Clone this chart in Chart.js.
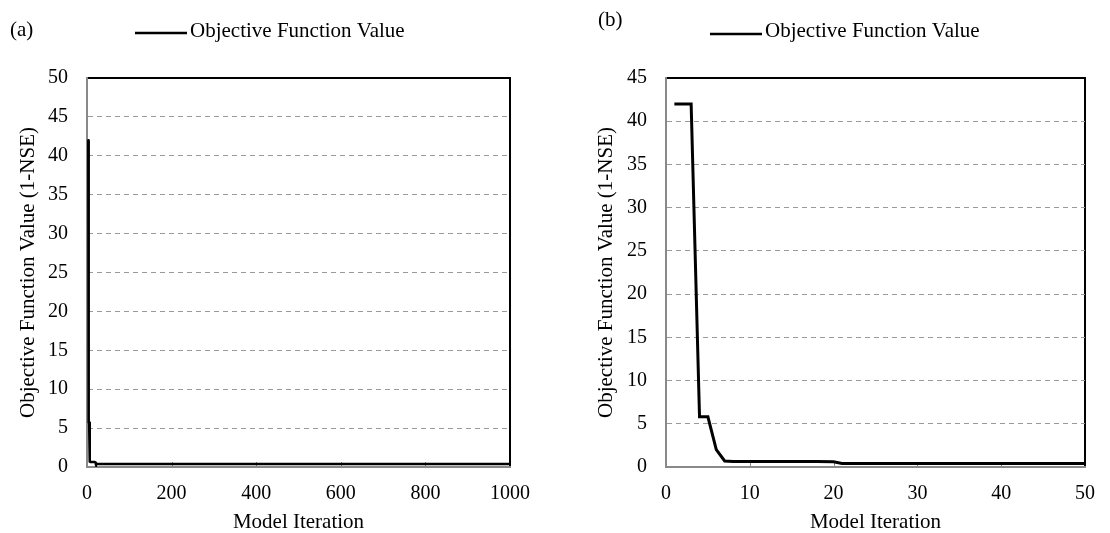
<!DOCTYPE html>
<html>
<head>
<meta charset="utf-8">
<script src="https://cdn.jsdelivr.net/npm/chart.js@4"></script>
<style>
  html, body { margin: 0; padding: 0; background: #fff; }
  #wrap { position: relative; width: 1110px; height: 533px; }
  .panel { position: absolute; top: 0; width: 555px; height: 533px; }
</style>
</head>
<body>
<div id="wrap">
  <div class="panel" style="left:0"><canvas id="chartA" width="555" height="533"></canvas></div>
  <div class="panel" style="left:555px"><canvas id="chartB" width="555" height="533"></canvas></div>
</div>
<script>
// --- dados ---
const seriesLabel = 'Objective Function Value';
const yTitle = 'Objective Function Value (1-NSE)';
const xTitle = 'Model Iteration';

// painel (a): 1000 iterações
const iterA  = [1, 2, 3, 4, 5, 6, 7, 8, 18, 20, 21, 1000];
const valueA = [42, 42, 42, 5.8, 5.8, 2.0, 0.7, 0.65, 0.65, 0.6, 0.4, 0.4];

// painel (b): zoom nas primeiras 50 iterações
const iterB  = [1, 2, 3, 4, 5, 6, 7, 8, 18, 20, 21, 50];
const valueB = [42, 42, 42, 5.8, 5.8, 2.0, 0.7, 0.65, 0.65, 0.6, 0.4, 0.4];

const FONT = '"Liberation Serif", "Times New Roman", serif';
const AXIS_GRAY = '#898989';
const GRID_GRAY = '#9a9a9a';

Chart.defaults.font.family = FONT;
Chart.defaults.font.size = 20;
Chart.defaults.color = '#000';

// Plugin: moldura preta (topo/direita), ticks internos no eixo x, rótulo do painel e legenda
const panelDecor = {
    id: 'panelDecor',
    beforeDraw(chart) {
        const { ctx, chartArea: a } = chart;
        ctx.save();
        ctx.strokeStyle = '#000';
        ctx.lineWidth = 2;
        ctx.beginPath();
        ctx.moveTo(a.left, a.top);
        ctx.lineTo(a.right, a.top);
        ctx.lineTo(a.right, a.bottom);
        ctx.stroke();
        ctx.restore();
    },
    beforeDatasetsDraw(chart) {
        const { ctx, chartArea: a } = chart;
        const xs = chart.scales.x;
        ctx.save();
        ctx.strokeStyle = AXIS_GRAY;
        ctx.lineWidth = 1;
        xs.ticks.forEach(t => {
            const px = Math.round(xs.getPixelForValue(t.value)) + 0.5;
            if (px < a.left + 3 || px > a.right - 3) return;
            ctx.beginPath();
            ctx.moveTo(px, a.bottom);
            ctx.lineTo(px, a.bottom - 5);
            ctx.stroke();
        });
        ctx.restore();
    },
    afterDraw(chart, args, o) {
        const ctx = chart.ctx;
        const ds = chart.data.datasets[0];
        ctx.save();
        ctx.font = '21px ' + FONT;
        ctx.fillStyle = '#000';
        ctx.textBaseline = 'middle';
        ctx.textAlign = 'left';
        ctx.fillText(o.panelLabel, o.labelX, o.labelY);
        ctx.strokeStyle = ds.borderColor;
        ctx.lineWidth = 2.5;
        ctx.beginPath();
        ctx.moveTo(o.legendX, o.legendY);
        ctx.lineTo(o.legendX + o.legendLen, o.legendY);
        ctx.stroke();
        ctx.fillText(ds.label, o.legendX + o.legendLen + 3, o.legendTextY);
        ctx.restore();
    }
};

function makePanel(canvasId, xs, ys, cfg) {
    const points = xs.map((x, i) => ({ x: x, y: ys[i] }));
    return new Chart(document.getElementById(canvasId), {
        type: 'line',
        data: {
            datasets: [{
                label: seriesLabel,
                data: points,
                borderColor: '#000',
                borderWidth: cfg.lineWidth,
                pointRadius: 0,
                tension: 0,
                fill: false
            }]
        },
        options: {
            responsive: false,
            animation: false,
            devicePixelRatio: 1,
            layout: { padding: { top: 78, right: cfg.padRight, bottom: 0, left: 0 } },
            plugins: {
                legend: { display: false },
                tooltip: { enabled: false },
                panelDecor: cfg.decor
            },
            scales: {
                x: {
                    type: 'linear',
                    min: 0,
                    max: cfg.xMax,
                    ticks: { stepSize: cfg.xStep, padding: 15, maxRotation: 0, callback: v => String(v) },
                    grid: { drawOnChartArea: false, drawTicks: false },
                    border: { color: AXIS_GRAY, width: 2 },
                    title: { display: true, text: xTitle, padding: { top: 0, bottom: 0 }, font: { size: 21, lineHeight: 1 } },
                    afterFit: s => { s.height = 66; }
                },
                y: {
                    min: 0,
                    max: cfg.yMax,
                    ticks: { stepSize: 5, padding: 19 },
                    grid: {
                        drawTicks: false,
                        lineWidth: 1,
                        color: c => (c.tick.value === 0 || c.tick.value === cfg.yMax) ? 'rgba(0,0,0,0)' : GRID_GRAY
                    },
                    border: { color: AXIS_GRAY, width: 2, dash: [5, 4] },
                    title: { display: true, text: yTitle, padding: { top: cfg.yTitlePad, bottom: 0 }, font: { size: 21, lineHeight: 1.2 } },
                    afterFit: s => { s.width = cfg.yWidth; }
                }
            }
        },
        plugins: [panelDecor]
    });
}

makePanel('chartA', iterA, valueA, {
    xMax: 1000, xStep: 200, yMax: 50, lineWidth: 2.5,
    padRight: 45, yWidth: 87, yTitlePad: 16,
    decor: { panelLabel: '(a)', labelX: 10, labelY: 30, legendX: 135, legendLen: 52, legendY: 33, legendTextY: 31 }
});

makePanel('chartB', iterB, valueB, {
    xMax: 50, xStep: 10, yMax: 45, lineWidth: 3,
    padRight: 13, yWidth: 111, yTitlePad: 39,
    decor: { panelLabel: '(b)', labelX: 43, labelY: 20, legendX: 155, legendLen: 52, legendY: 34, legendTextY: 31 }
});
</script>
</body>
</html>
